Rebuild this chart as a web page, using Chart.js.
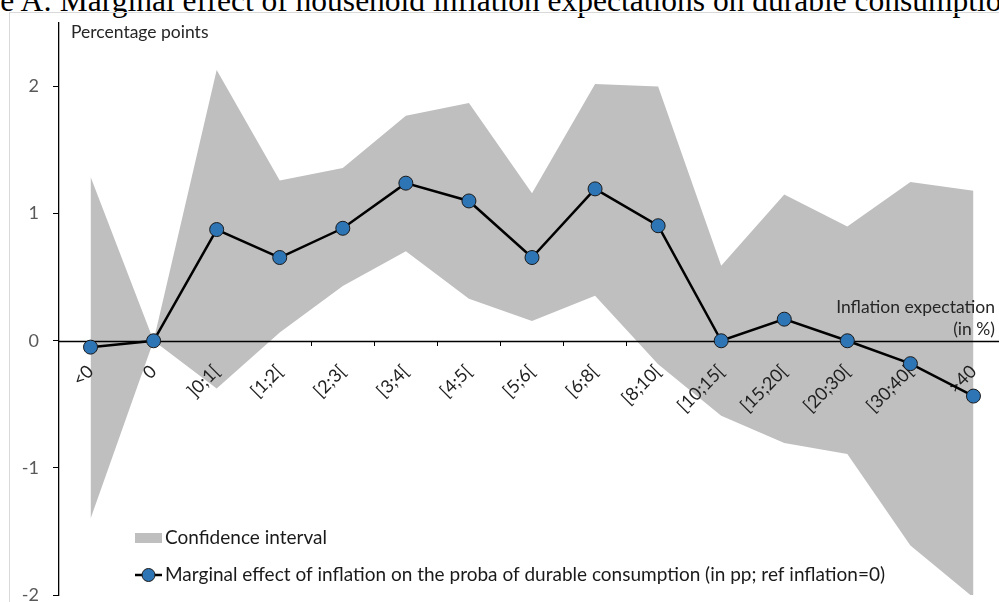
<!DOCTYPE html>
<html>
<head>
<meta charset="utf-8">
<script src="https://cdn.jsdelivr.net/npm/chart.js@4.4.0/dist/chart.umd.min.js"></script>
<style>
html, body { margin: 0; padding: 0; width: 999px; height: 602px; overflow: hidden; background: #fff; }
#title { position: absolute; top: -15px; left: 0; font-family: "Liberation Serif", serif; font-size: 31.5px; line-height: 31.5px; white-space: nowrap; color: #000; }
#frame { position: absolute; left: 9px; top: 12px; width: 1100px; height: 700px; border: 1px solid #d9d9d9; }
#chart { position: absolute; left: 0; top: 0; }
</style>
</head>
<body>
<div id="title"><span id="pre">Figur</span>e A: Marginal effect of household inflation expectations on durable consumption</div>
<div id="frame"></div>
<canvas id="chart" width="1005" height="602"></canvas>
<script>
// shift the title so it is cut on the left like the source picture
document.getElementById('title').style.left = -document.getElementById('pre').offsetWidth + 'px';

var categories = ['<0', '0', ']0;1[', '[1;2[', '[2;3[', '[3;4[', '[4;5[', '[5;6[', '[6;8[', '[8;10[', '[10;15[', '[15;20[', '[20;30[', '[30;40[', '>40'];
var marginalEffect = [-0.05, 0, 0.875, 0.655, 0.885, 1.24, 1.10, 0.655, 1.195, 0.905, 0, 0.17, 0, -0.18, -0.435];
var ciUpper = [1.29, 0, 2.13, 1.26, 1.36, 1.77, 1.87, 1.16, 2.02, 2.00, 0.59, 1.15, 0.90, 1.25, 1.18];
var ciLower = [-1.40, 0, -0.375, 0.065, 0.43, 0.705, 0.33, 0.155, 0.355, -0.185, -0.59, -0.805, -0.89, -1.61, -2.02];
var yTicks = [-2, -1, 0, 1, 2];

var FONT = 'Lato';
var lineLabel = 'Marginal effect of inflation on the proba of durable consumption (in pp; ref inflation=0)';
var bandLabel = 'Confidence interval';

// the x axis line and its labels go over the band but under the line,
// so they are painted just before dataset 0
var axisOverBand = {
    id: 'axisOverBand',
    beforeDatasetDraw: function(chart, args) {
        if (args.index !== 0) return;
        var ctx = chart.ctx;
        var area = chart.chartArea;
        var y0 = Math.round(chart.scales.y.getPixelForValue(0)) + 0.5;
        ctx.save();
        ctx.strokeStyle = '#000';
        ctx.lineWidth = 1.3;
        ctx.beginPath();
        ctx.moveTo(area.left, y0);
        ctx.lineTo(area.right, y0);
        ctx.stroke();
        ctx.restore();
        chart.scales.xLabels.drawLabels(area);
    }
};

// axis captions and the legend sit inside the plot, so draw them by hand
var captionsPlugin = {
    id: 'captions',
    afterDraw: function(chart) {
        var ctx = chart.ctx;
        var area = chart.chartArea;
        var y0 = chart.scales.y.getPixelForValue(0);
        ctx.save();
        ctx.fillStyle = '#262626';
        ctx.textBaseline = 'middle';

        ctx.font = '17.5px ' + FONT;
        ctx.textAlign = 'left';
        ctx.fillText('Percentage points', area.left + 12, area.top + 9);

        ctx.font = '17.5px ' + FONT;
        ctx.textAlign = 'right';
        ctx.fillText('Inflation expectation', area.right - 10, y0 - 33);
        ctx.fillText('(in %)', area.right - 10, y0 - 11);

        // legend
        var lx = area.left + 76;
        var ly1 = area.bottom - 57;
        var ly2 = area.bottom - 20;
        ctx.fillStyle = chart.data.datasets[1].backgroundColor;
        ctx.fillRect(lx, ly1 - 5, 27, 10);

        var main = chart.data.datasets[0];
        ctx.strokeStyle = main.borderColor;
        ctx.lineWidth = 2.5;
        ctx.beginPath();
        ctx.moveTo(lx, ly2);
        ctx.lineTo(lx + 27, ly2);
        ctx.stroke();
        ctx.beginPath();
        ctx.arc(lx + 13.5, ly2, 6.5, 0, Math.PI * 2);
        ctx.fillStyle = main.pointBackgroundColor;
        ctx.fill();
        ctx.lineWidth = 1;
        ctx.strokeStyle = main.pointBorderColor;
        ctx.stroke();

        ctx.fillStyle = '#1a1a1a';
        ctx.textAlign = 'left';
        ctx.font = '19px ' + FONT;
        ctx.fillText(bandLabel, lx + 30, ly1);
        ctx.fillText(lineLabel, lx + 30, ly2);
        ctx.restore();
    }
};

function noPad(s) { s.paddingLeft = 0; s.paddingRight = 0; s.paddingTop = 0; s.paddingBottom = 0; }

new Chart(document.getElementById('chart'), {
    type: 'line',
    data: {
        labels: categories,
        datasets: [{
            label: lineLabel,
            data: marginalEffect,
            borderColor: '#000',
            borderWidth: 2.5,
            pointRadius: 7,
            pointBackgroundColor: '#2E75B6',
            pointBorderColor: '#1a1a1a',
            pointBorderWidth: 1,
            tension: 0,
            fill: false
        }, {
            label: bandLabel,
            data: ciUpper,
            borderWidth: 0,
            pointRadius: 0,
            backgroundColor: '#BFBFBF',
            fill: '+1'
        }, {
            label: 'lower bound',
            data: ciLower,
            borderWidth: 0,
            pointRadius: 0,
            fill: false
        }]
    },
    options: {
        responsive: false,
        animation: false,
        layout: { autoPadding: false, padding: { top: 23, bottom: 7, left: 0, right: 0 } },
        plugins: {
            legend: { display: false },
            tooltip: { enabled: false }
        },
        scales: {
            x: {
                offset: true,
                position: { y: 0 },
                grid: { offset: true, drawOnChartArea: false, drawTicks: true, tickLength: 5, tickColor: '#000' },
                border: { display: false },
                ticks: { display: false },
                afterFit: noPad
            },
            // label-only copy of the x axis, painted by axisOverBand
            xLabels: {
                type: 'category',
                axis: 'x',
                display: false,
                offset: true,
                position: { y: 0 },
                grid: { offset: true, tickLength: 5 },
                ticks: { autoSkip: false, minRotation: 45, maxRotation: 45, padding: 15, color: '#1f1f1f', font: { family: FONT, size: 18 } },
                afterFit: noPad
            },
            y: {
                min: -2,
                max: 2.5,
                afterBuildTicks: function(s) {
                    s.ticks = yTicks.map(function(v) { return { value: v }; });
                },
                afterFit: function(s) { noPad(s); s.width = 59; },
                grid: { drawOnChartArea: false, drawTicks: true, tickLength: 6, tickColor: '#000' },
                border: { color: '#000', width: 1.3 },
                ticks: { padding: 14, color: '#595959', font: { family: FONT, size: 18 } }
            }
        }
    },
    plugins: [axisOverBand, captionsPlugin]
});
</script>
</body>
</html>
